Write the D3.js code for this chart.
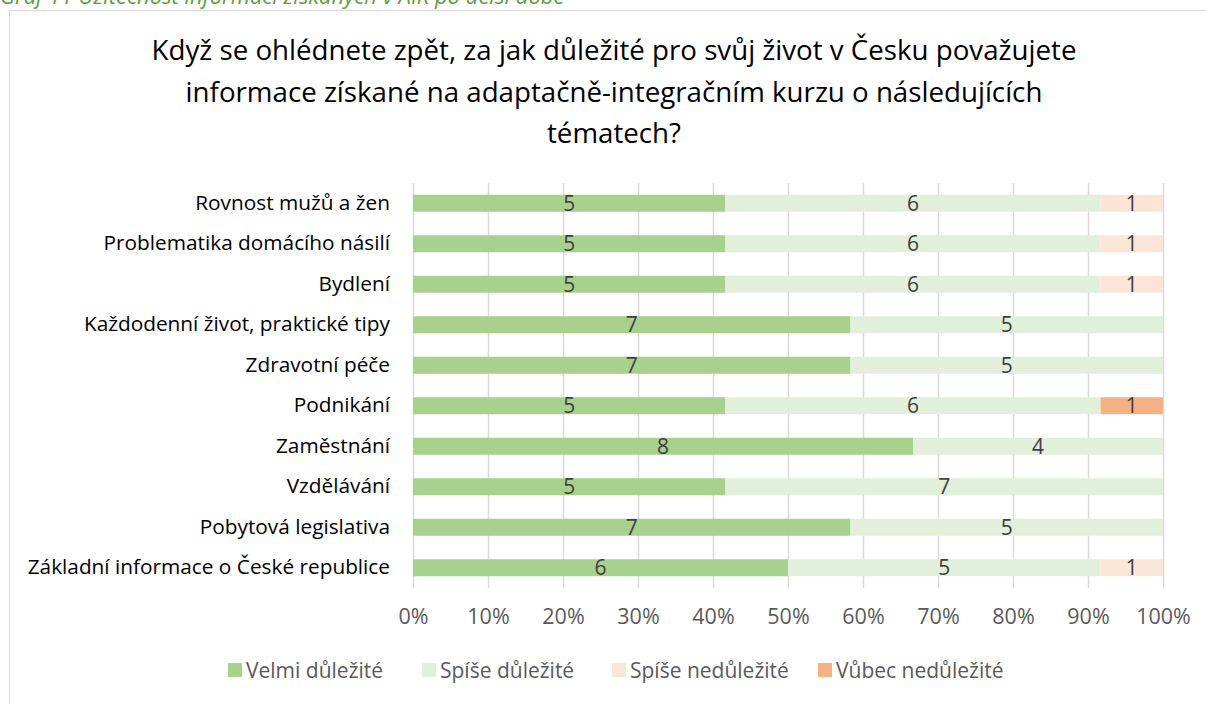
<!DOCTYPE html>
<html><head><meta charset="utf-8">
<script src="https://cdn.jsdelivr.net/npm/d3@7"></script>
<style>body{margin:0;background:#fff}svg{display:block}</style>
</head><body>
<svg id="c" width="1206" height="704"></svg>
<script>
const categories = ["Rovnost mužů a žen","Problematika domácího násilí","Bydlení","Každodenní život, praktické tipy","Zdravotní péče","Podnikání","Zaměstnání","Vzdělávání","Pobytová legislativa","Základní informace o České republice"];
const seriesNames = ["Velmi důležité","Spíše důležité","Spíše nedůležité","Vůbec nedůležité"];
const velmi = [5,5,5,7,7,5,8,5,7,6];
const spise = [6,6,6,5,5,6,4,7,5,5];
const spiseNe = [1,1,1,0,0,0,0,0,0,1];
const vubecNe = [0,0,0,0,0,1,0,0,0,0];
const colors = ["#A9D18E","#E2EFDA","#FBE5D6","#F4B183"];
const tickValues = [0,0.1,0.2,0.3,0.4,0.5,0.6,0.7,0.8,0.9,1];
const titleLines = ["Když se ohlédnete zpět, za jak důležité pro svůj život v Česku považujete","informace získané na adaptačně-integračním kurzu o následujících","tématech?"];
const caption = "Graf 11 Užitečnost informací získaných v AIK po delší době";

const font = "'Open Sans', sans-serif";
const svg = d3.select("#c");
svg.append("text").attr("x",0).attr("y",4).attr("font-family",font).attr("font-style","italic")
  .attr("font-size",22).attr("fill","#5E9E3C").text(caption);
svg.append("rect").attr("x",9.5).attr("y",10.5).attr("width",1210).attr("height",710)
  .attr("fill","#fff").attr("stroke","#d9d9d9");

const tg = svg.append("g");
titleLines.forEach((t,i)=>tg.append("text").attr("x",614).attr("y",60+i*41.5)
  .attr("text-anchor","middle").attr("font-family",font).attr("font-size",27.7).attr("fill","#000").text(t));

const x = d3.scaleLinear().domain([0,1]).range([413,1163]);
const y = d3.scaleBand().domain(categories).range([183,588]).paddingInner(0.58).paddingOuter(0.29);

const gx = svg.append("g").attr("transform","translate(0,588)")
  .call(d3.axisBottom(x).tickValues(tickValues).tickSize(-405).tickFormat(d3.format(".0%")).tickPadding(21));
gx.select(".domain").remove();
gx.selectAll("line").attr("stroke","#d9d9d9").attr("stroke-width",1.5);
gx.selectAll("text").attr("font-family",font).attr("font-size",21.5).attr("fill","#595959");

const gy = svg.append("g").attr("transform","translate(413,0)")
  .call(d3.axisLeft(y).tickSize(0).tickPadding(23));
gy.select(".domain").remove();
gy.selectAll("text").attr("font-family",font).attr("font-size",20.8).attr("fill","#000");

const rows = categories.map((c,i)=>({c, vals:[velmi[i],spise[i],spiseNe[i],vubecNe[i]]}));
rows.forEach(r=>{
  const tot = d3.sum(r.vals);
  let acc = 0;
  r.vals.forEach((v,k)=>{
    if(v===0) return;
    const x0 = x(acc/tot), x1 = x((acc+v)/tot);
    svg.append("rect").attr("x",x0).attr("y",y(r.c)).attr("width",x1-x0).attr("height",y.bandwidth()).attr("fill",colors[k]);
    svg.append("text").attr("x",(x0+x1)/2).attr("y",y(r.c)+y.bandwidth()/2).attr("dy","0.36em")
      .attr("text-anchor","middle").attr("font-family",font).attr("font-size",21).attr("fill","#404040").text(v);
    acc += v;
  });
});

const lg = svg.append("g");
const legX = [228,422,612,818];
seriesNames.forEach((n,k)=>{
  lg.append("rect").attr("x",legX[k]).attr("y",663).attr("width",14).attr("height",14).attr("fill",colors[k]);
  lg.append("text").attr("x",legX[k]+18).attr("y",670).attr("dy","0.36em").attr("font-family",font)
    .attr("font-size",21).attr("fill","#595959").text(n);
});
</script>
</body></html>
